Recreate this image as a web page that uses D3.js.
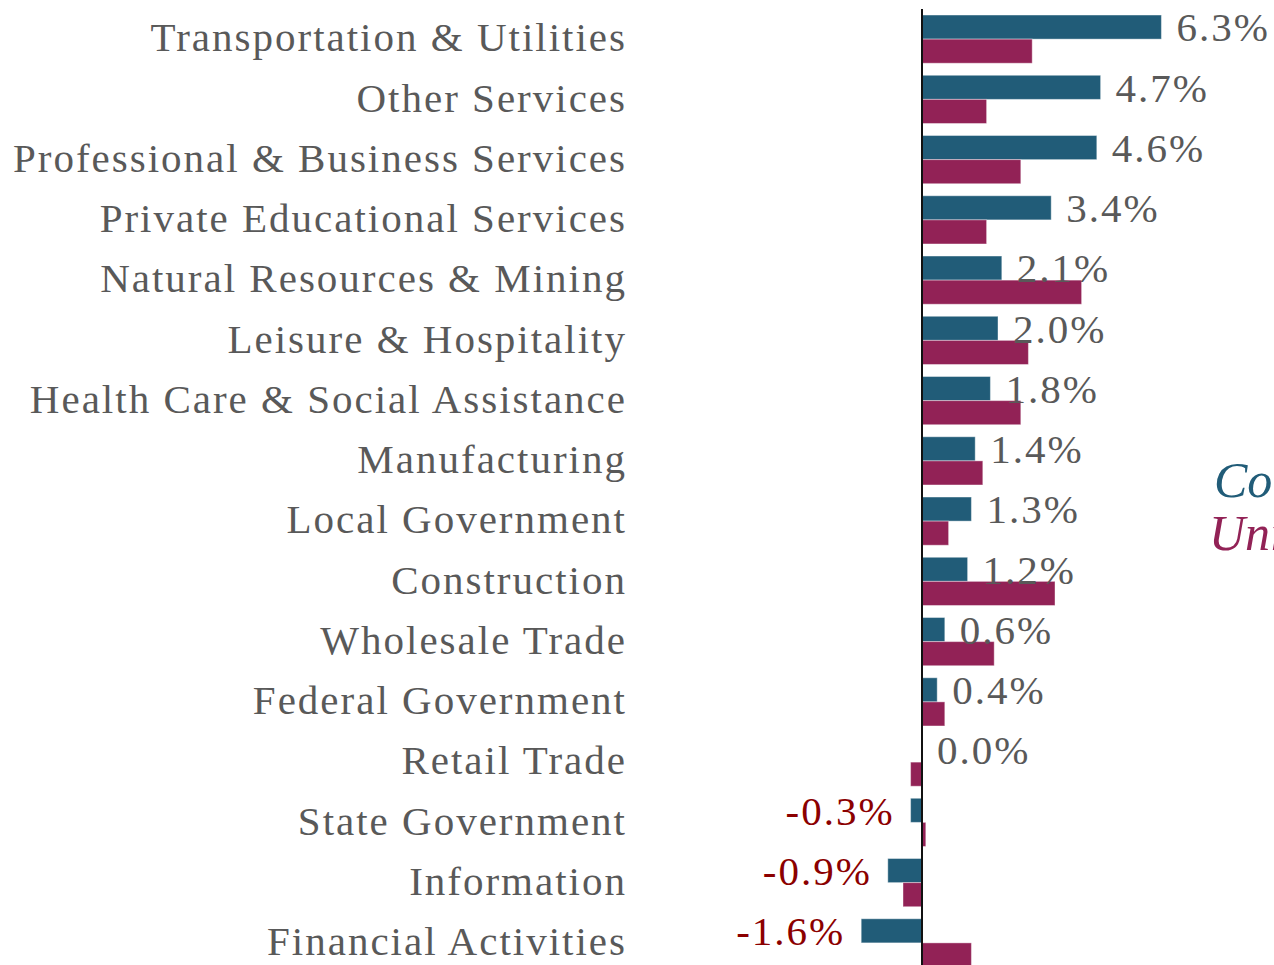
<!DOCTYPE html>
<head>
    <meta charset="utf-8">
    <title>Job Growth by Industry</title>
    <style>
        body { margin: 0; background: #fff; }
        svg { display: block; }
        text { font-family: "Liberation Serif", "DejaVu Serif", serif; }
        text.cat { font-size: 41px; fill: #595959; letter-spacing: 2px; }
        text.val { font-size: 41px; letter-spacing: 2px; }
        text.legend { font-size: 50px; font-style: italic; }
    </style>
    <script type="text/javascript" src="https://cdn.jsdelivr.net/npm/d3@7"></script>
</head>
<body>
    <script>
        var categories = ["Transportation & Utilities", "Other Services", "Professional & Business Services",
            "Private Educational Services", "Natural Resources & Mining", "Leisure & Hospitality",
            "Health Care & Social Assistance", "Manufacturing", "Local Government", "Construction",
            "Wholesale Trade", "Federal Government", "Retail Trade", "State Government",
            "Information", "Financial Activities"];
        var colorado = [6.3, 4.7, 4.6, 3.4, 2.1, 2.0, 1.8, 1.4, 1.3, 1.2, 0.6, 0.4, 0.0, -0.3, -0.9, -1.6];
        var unitedStates = [2.9, 1.7, 2.6, 1.7, 4.2, 2.8, 2.6, 1.6, 0.7, 3.5, 1.9, 0.6, -0.3, 0.1, -0.5, 1.3];
        var seriesNames = ["Colorado", "United States"];

        var width = 1274, height = 965;
        var blue = "#215c78", magenta = "#922256";

        var svg = d3.select("body").append("svg")
            .attr("width", width)
            .attr("height", height);

        // 38px per percentage point, zero at x=922
        var x = d3.scaleLinear().domain([0, 1]).range([922, 960]);

        var y = d3.scaleBand()
            .domain(categories)
            .range([9, 973])
            .paddingInner(0.2)
            .paddingOuter(0.1);

        var half = y.bandwidth() / 2;

        var data = categories.map(function (c, i) {
            return { cat: c, co: colorado[i], us: unitedStates[i] };
        });

        // category labels (letter-spacing leaves a trailing gap, so nudge right)
        svg.append("g").selectAll("text")
            .data(data)
            .enter().append("text")
            .attr("class", "cat")
            .attr("x", 627)
            .attr("y", d => y(d.cat) + half - 2)
            .attr("dy", "0.35em")
            .attr("text-anchor", "end")
            .text(d => d.cat);

        var bars = svg.append("g");

        bars.selectAll("rect.co")
            .data(data.filter(d => d.co !== 0))
            .enter().append("rect")
            .attr("class", "co")
            .attr("x", d => x(Math.min(0, d.co)))
            .attr("y", d => y(d.cat))
            .attr("width", d => Math.abs(x(d.co) - x(0)))
            .attr("height", half)
            .attr("fill", blue)
            .attr("stroke", "#ffffff")
            .attr("stroke-opacity", 0.4)
            .attr("stroke-width", 1);

        bars.selectAll("rect.us")
            .data(data)
            .enter().append("rect")
            .attr("class", "us")
            .attr("x", d => x(Math.min(0, d.us)))
            .attr("y", d => y(d.cat) + half)
            .attr("width", d => Math.abs(x(d.us) - x(0)))
            .attr("height", half)
            .attr("fill", magenta)
            .attr("stroke", "#ffffff")
            .attr("stroke-opacity", 0.4)
            .attr("stroke-width", 1);

        // zero line
        svg.append("line")
            .attr("x1", x(0)).attr("x2", x(0))
            .attr("y1", 9).attr("y2", height)
            .attr("stroke", "#111")
            .attr("stroke-width", 2);

        // value labels for Colorado
        svg.append("g").selectAll("text")
            .data(data)
            .enter().append("text")
            .attr("class", "val")
            .attr("x", d => d.co < 0 ? x(d.co) - 16 : Math.max(x(d.co), x(0)) + 15)
            .attr("y", d => y(d.cat) + half / 2)
            .attr("dy", "0.35em")
            .attr("text-anchor", d => d.co < 0 ? "end" : "start")
            .attr("fill", d => d.co < 0 ? "#8b0000" : "#595959")
            .text(d => d.co.toFixed(1) + "%");

        // legend (runs off the right edge, as in the original)
        svg.append("text")
            .attr("class", "legend")
            .attr("x", 1214)
            .attr("y", 497)
            .attr("fill", blue)
            .text(seriesNames[0]);

        svg.append("text")
            .attr("class", "legend")
            .attr("x", 1209)
            .attr("y", 550)
            .attr("fill", magenta)
            .text(seriesNames[1]);
    </script>
</body>
